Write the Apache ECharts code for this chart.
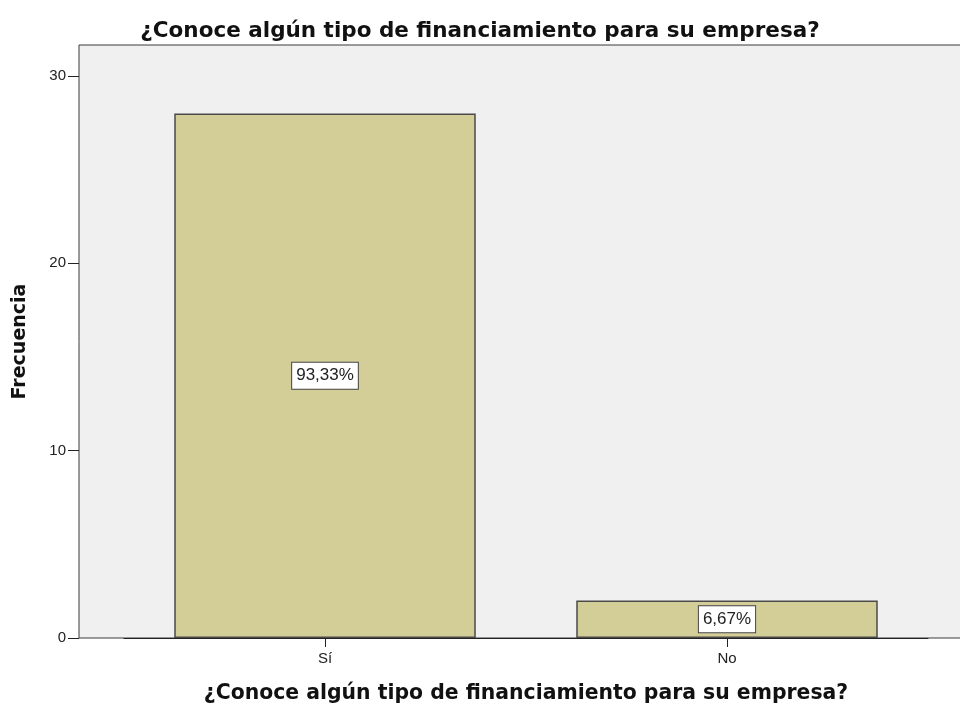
<!DOCTYPE html>
<html>
<head>
<meta charset="utf-8">
<script src="https://cdn.jsdelivr.net/npm/echarts@6/dist/echarts.min.js"></script>
<style>
html, body { margin: 0; padding: 0; background: #fff; }
#chart { width: 960px; height: 704px; }
</style>
</head>
<body>
<div id="chart"></div>
<script>
var categories = ['Sí', 'No'];
var frecuencias = [28, 2];
var porcentajes = ['93,33%', '6,67%'];
var yTicks = [0, 10, 20, 30];

var titulo = '¿Conoce algún tipo de financiamiento para su empresa?';

var chart = echarts.init(document.getElementById('chart'));

var option = {
	backgroundColor: '#ffffff',
	animation: false,
	title: {
		text: titulo,
		left: 'center',
		top: 15,
		textStyle: {
			fontFamily: 'DejaVu Sans',
			fontSize: 21.5,
			fontWeight: 'bold',
			color: '#111'
		}
	},
	grid: [
		// grid de datos
		{ left: 124, top: 76, width: 804, height: 562, containLabel: false, outerBoundsMode: 'none' },
		// fondo gris del area del grafico
		{ left: 79, top: 45, right: -10, bottom: 66, show: true, backgroundColor: '#f0f0f0', borderColor: '#3a3a3a', borderWidth: 1, z: 0, outerBoundsMode: 'none' }
	],
	xAxis: [
		{
			type: 'category',
			gridIndex: 0,
			data: categories,
			name: titulo,
			nameLocation: 'middle',
			nameGap: 46,
			nameTextStyle: {
				fontFamily: 'DejaVu Sans',
				fontSize: 20.4,
				fontWeight: 'bold',
				color: '#111'
			},
			axisLine: { show: true, lineStyle: { color: '#222', width: 1 } },
			axisTick: { show: true, alignWithLabel: true, length: 9, lineStyle: { color: '#222' } },
			axisLabel: { color: '#222', fontFamily: 'Liberation Sans', fontSize: 15, margin: 13 }
		},
		{ type: 'value', gridIndex: 1, show: false }
	],
	yAxis: [
		{
			type: 'value',
			gridIndex: 0,
			min: 0,
			max: 30,
			interval: 10,
			offset: 45,
			splitLine: { show: false },
			axisLine: { show: false },
			axisTick: { show: true, length: 11, lineStyle: { color: '#222' } },
			axisLabel: {
				color: '#222', fontFamily: 'Liberation Sans', fontSize: 15, margin: 13,
				formatter: function (v) { return yTicks.indexOf(v) >= 0 ? v : ''; }
			}
		},
		{
			type: 'value',
			gridIndex: 1,
			name: 'Frecuencia',
			nameLocation: 'middle',
			nameGap: 49,
			nameTextStyle: {
				fontFamily: 'DejaVu Sans',
				fontSize: 19,
				fontWeight: 'bold',
				color: '#111'
			},
			axisLine: { show: false },
			axisTick: { show: false },
			axisLabel: { show: false },
			splitLine: { show: false }
		}
	],
	series: [
		{
			type: 'bar',
			xAxisIndex: 0,
			yAxisIndex: 0,
			data: frecuencias,
			barWidth: '75%',
			z: 3,
			itemStyle: { color: '#d3cd97', borderColor: '#4a4a4a', borderWidth: 1.5 },
			label: {
				show: true,
				position: 'inside',
				formatter: function (p) { return porcentajes[p.dataIndex]; },
				backgroundColor: '#ffffff',
				borderColor: '#444',
				borderWidth: 1,
				padding: [4, 4, 4, 4],
				lineHeight: 18,
				color: '#222',
				fontFamily: 'Liberation Sans',
				fontSize: 17
			}
		}
	]
};

chart.setOption(option);
</script>
</body>
</html>
